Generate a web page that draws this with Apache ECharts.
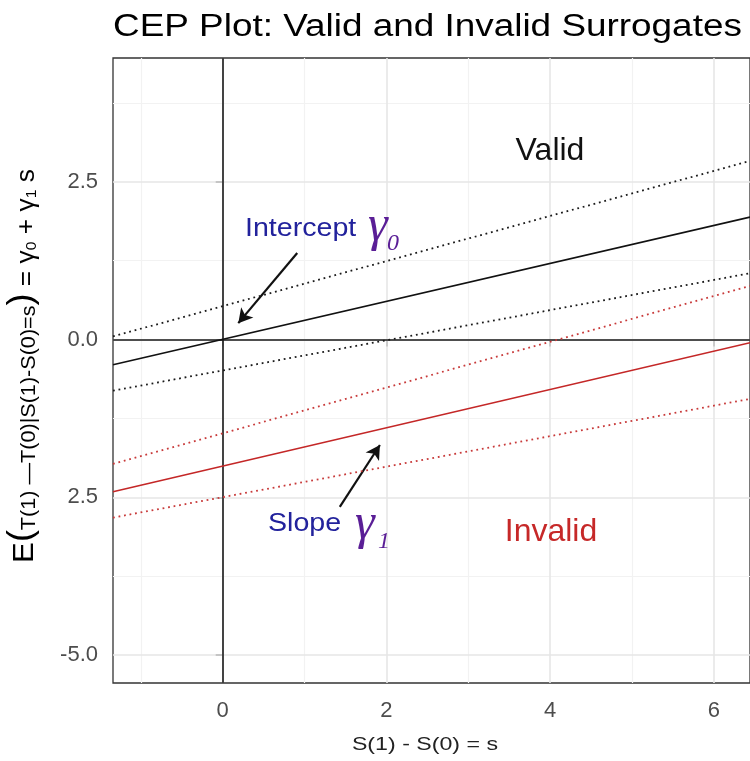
<!DOCTYPE html>
<html><head><meta charset="utf-8">
<script src="https://cdn.jsdelivr.net/npm/echarts@6/dist/echarts.min.js"></script>
<style>html,body{margin:0;padding:0;background:#fff}#c{width:750px;height:761px}</style>
</head><body><div id="c"></div>
<script>
// ---- data ----
const sEnds = [-1.34, 6.44];
const validUpper = [0.05, 2.83];
const validFit = [-0.40, 1.94];
const validLower = [-0.81, 1.05];
const invalidUpper = [-1.97, 0.85];
const invalidFit = [-2.41, -0.05];
const invalidLower = [-2.82, -0.94];
const xRange = [-1.34, 6.44];
const yRange = [-5.44, 4.46];
const xMajorTicks = [0, 2, 4, 6];
const xMinorTicks = [-1, 1, 3, 5];
const xTickLabels = ['0', '2', '4', '6'];
const yMajorTicks = [-5, -2.5, 0, 2.5];
const yMinorTicks = [-3.75, -1.25, 1.25, 3.75];
const yTickLabels = ['-5.0', '2.5', '0.0', '2.5'];
const interceptArrow = [[0.91, 1.37], [0.19, 0.26]];
const slopeArrow = [[1.43, -2.65], [1.92, -1.67]];

const FONT = "'Liberation Sans', Arial, Helvetica, sans-serif";
const SERIF = "'Liberation Serif', 'DejaVu Serif', serif";
const pts = v => sEnds.map((s, i) => [s, v[i]]);

const chart = echarts.init(document.getElementById('c'), null, {renderer: 'canvas'});

function lineSeries(name, vals, color, dotted, z) {
  return {
    name, type: 'line', data: pts(vals), showSymbol: false, symbol: 'none', z: z || 5,
    lineStyle: {color, width: dotted ? 1.8 : 1.6, type: dotted ? [1.8, 3.8] : 'solid'},
    silent: true
  };
}

const gridLines = [];
xMinorTicks.forEach(v => gridLines.push({xAxis: v, lineStyle: {color: '#f2f2f2', width: 1.2, type: 'solid'}}));
yMinorTicks.forEach(v => gridLines.push({yAxis: v, lineStyle: {color: '#f2f2f2', width: 1.2, type: 'solid'}}));
xMajorTicks.forEach(v => gridLines.push({xAxis: v, lineStyle: {color: '#e6e6e6', width: 1.6, type: 'solid'}}));
yMajorTicks.forEach(v => gridLines.push({yAxis: v, lineStyle: {color: '#e6e6e6', width: 1.6, type: 'solid'}}));

const option = {
  animation: false,
  backgroundColor: '#fff',
  grid: {left: 113, top: 58, width: 639, height: 625, show: true, borderColor: '#333', borderWidth: 1.3, backgroundColor: 'transparent'},
  xAxis: {
    type: 'value', min: xRange[0], max: xRange[1],
    axisLine: {show: false},
    splitLine: {show: false},
    axisTick: {show: true, customValues: xMajorTicks, length: 7, lineStyle: {color: '#333', width: 1.5}},
    axisLabel: {customValues: xMajorTicks, formatter: v => xTickLabels[xMajorTicks.indexOf(v)],
      fontSize: 22, color: '#4d4d4d', margin: 17, fontFamily: FONT}
  },
  yAxis: {
    type: 'value', min: yRange[0], max: yRange[1],
    axisLine: {show: false},
    splitLine: {show: false},
    axisTick: {show: true, customValues: yMajorTicks, length: 7, lineStyle: {color: '#333', width: 1.5}},
    axisLabel: {customValues: yMajorTicks, formatter: v => yTickLabels[yMajorTicks.indexOf(v)],
      fontSize: 22, color: '#4d4d4d', margin: 15, fontFamily: FONT}
  },
  series: [
    {type: 'line', data: [], z: 1, silent: true,
      markLine: {silent: true, symbol: 'none', label: {show: false}, animation: false, data: gridLines}},
    {type: 'line', data: [], z: 3, silent: true,
      markLine: {silent: true, symbol: 'none', label: {show: false}, animation: false,
        lineStyle: {color: '#1a1a1a', width: 1.6, type: 'solid'},
        data: [{xAxis: 0}, {yAxis: 0}]}},
    lineSeries('validUpper', validUpper, '#1a1a1a', true),
    lineSeries('validFit', validFit, '#111111', false),
    lineSeries('validLower', validLower, '#1a1a1a', true),
    lineSeries('invalidUpper', invalidUpper, '#c83a3a', true),
    lineSeries('invalidFit', invalidFit, '#c42727', false),
    lineSeries('invalidLower', invalidLower, '#c83a3a', true),
    {type: 'line', data: [], z: 8, silent: true,
      markLine: {silent: true, symbol: ['none', 'arrow'], symbolSize: [12, 14], label: {show: false}, animation: false,
        lineStyle: {color: '#111', width: 2.2, type: 'solid'},
        data: [
          [{coord: interceptArrow[0]}, {coord: interceptArrow[1]}],
          [{coord: slopeArrow[0]}, {coord: slopeArrow[1]}]
        ]}}
  ],
  graphic: [
    {type: 'text', x: 113, y: 27, scaleX: 1.19, z: 20,
      style: {text: 'CEP Plot: Valid and Invalid Surrogates', fontSize: 31, fontFamily: FONT, fill: '#000', align: 'left', verticalAlign: 'middle'}},
    {type: 'text', x: 425, y: 745, scaleX: 1.22, z: 20,
      style: {text: 'S(1) - S(0) = s', fontSize: 19, fontFamily: FONT, fill: '#222', align: 'center', verticalAlign: 'middle'}},
    {type: 'text', x: 22, y: 366, rotation: Math.PI / 2, scaleX: 1.2, scaleY: 1.15, z: 20,
      style: {
        text: '{E|E}{p|(}{m|T(1) —T(0)|S(1)-S(0)=s}{p|)}{n| = γ}{s|0}{n| + γ}{s|1}{n| s}',
        align: 'center', verticalAlign: 'middle', fontFamily: FONT, fill: '#000',
        rich: {
          E: {fontSize: 26, fontFamily: FONT, fill: '#000', verticalAlign: 'bottom'},
          p: {fontSize: 30, fontFamily: FONT, fill: '#000', verticalAlign: 'bottom'},
          m: {fontSize: 18, fontFamily: FONT, fill: '#000', verticalAlign: 'bottom'},
          n: {fontSize: 22, fontFamily: FONT, fill: '#000', verticalAlign: 'bottom'},
          s: {fontSize: 13, fontFamily: FONT, fill: '#000', verticalAlign: 'bottom'}
        }
      }},
    {type: 'text', x: 550, y: 151, z: 20,
      style: {text: 'Valid', fontSize: 32, fontFamily: FONT, fill: '#111', align: 'center', verticalAlign: 'middle'}},
    {type: 'text', x: 551, y: 532, z: 20,
      style: {text: 'Invalid', fontSize: 32, fontFamily: FONT, fill: '#c62828', align: 'center', verticalAlign: 'middle'}},
    {type: 'text', x: 245, y: 229, scaleX: 1.1, z: 20,
      style: {text: 'Intercept', fontSize: 26, fontFamily: FONT, fill: '#22229c', align: 'left', verticalAlign: 'middle'}},
    {type: 'text', x: 368, y: 227, z: 20,
      style: {text: 'γ', fontSize: 50, fontFamily: SERIF, fontStyle: 'italic', fill: '#5a1e96', align: 'left', verticalAlign: 'middle'}},
    {type: 'text', x: 387, y: 244, z: 20,
      style: {text: '0', fontSize: 24, fontFamily: SERIF, fontStyle: 'italic', fill: '#5a1e96', align: 'left', verticalAlign: 'middle'}},
    {type: 'text', x: 268, y: 524, scaleX: 1.1, z: 20,
      style: {text: 'Slope', fontSize: 26, fontFamily: FONT, fill: '#22229c', align: 'left', verticalAlign: 'middle'}},
    {type: 'text', x: 355, y: 525, z: 20,
      style: {text: 'γ', fontSize: 50, fontFamily: SERIF, fontStyle: 'italic', fill: '#5a1e96', align: 'left', verticalAlign: 'middle'}},
    {type: 'text', x: 378, y: 542, z: 20,
      style: {text: '1', fontSize: 24, fontFamily: SERIF, fontStyle: 'italic', fill: '#5a1e96', align: 'left', verticalAlign: 'middle'}}
  ]
};
chart.setOption(option);
</script>
</body></html>
